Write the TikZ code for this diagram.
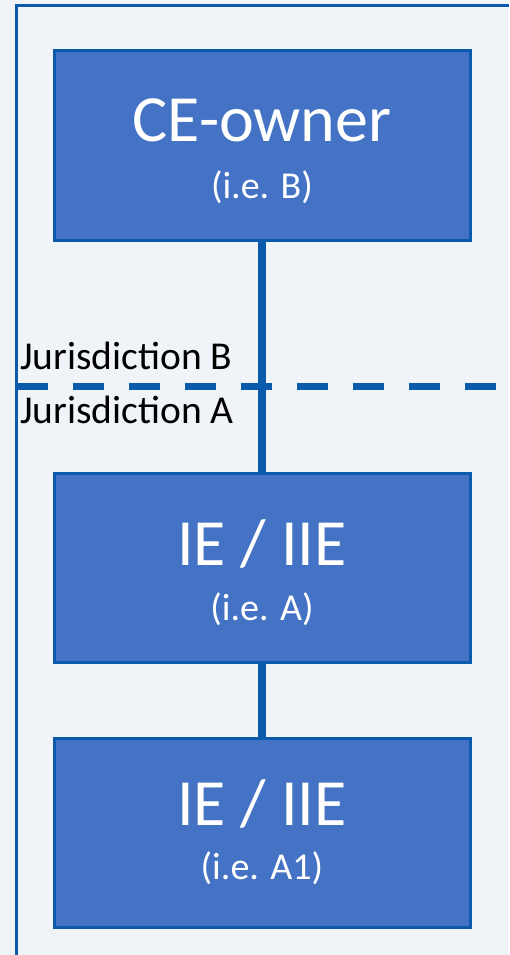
\documentclass[tikz,border=0pt]{standalone}
\usepackage{fontspec}
\setmainfont{Carlito}
\definecolor{bgcol}{HTML}{F0F4F9}
\definecolor{boxfill}{HTML}{4473C5}
\definecolor{linecol}{HTML}{0B5BAD}
\tikzset{
  entity/.style={draw=linecol, line width=3pt, fill=boxfill, minimum width=416pt, minimum height=189pt, inner sep=0pt},
  bigtext/.style={text=white, anchor=base, font=\fontsize{66}{70}\selectfont},
  smalltext/.style={text=white, anchor=base, font=\fontsize{38}{42}\selectfont},
  jurtext/.style={anchor=base west, inner sep=0pt, font=\fontsize{39.5}{44}\selectfont}
}
\begin{document}
\begin{tikzpicture}[x=1pt, y=-1pt]
\useasboundingbox[fill=bgcol] (0,0) rectangle (509,955);
\draw[linecol, line width=3pt] (16.5,955) -- (16.5,6) -- (509,6);
\node[entity] (node_ce) at (262,145.5) {};
\node[entity] (node_ia) at (262,568) {};
\node[entity] (node_iaone) at (262,832.5) {};
\node[bigtext] (ce_name) at (262,142) {CE-owner};
\node[smalltext] (ce_sub) at (262,198) {(i.e. B)};
\node[bigtext] (ia_name) at (262,565) {IE / IIE};
\node[smalltext] (ia_sub) at (262,620) {(i.e. A)};
\node[bigtext] (iaone_name) at (262,825) {IE / IIE};
\node[smalltext] (iaone_sub) at (262,879) {(i.e. A1)};
\draw[linecol, line width=7.5pt] (node_ce.south) -- (node_ia.north);
\draw[linecol, line width=7.5pt] (node_ia.south) -- (node_iaone.north);
\coordinate (border_l) at (17,386);
\coordinate (border_r) at (509,386);
\draw[linecol, line width=7pt, dash pattern=on 31pt off 25pt] (border_l) -- (border_r);
\node[jurtext] (jur_b) at (20,369) {Jurisdiction B};
\node[jurtext] (jur_a) at (20,423) {Jurisdiction A};
\end{tikzpicture}
\end{document}
